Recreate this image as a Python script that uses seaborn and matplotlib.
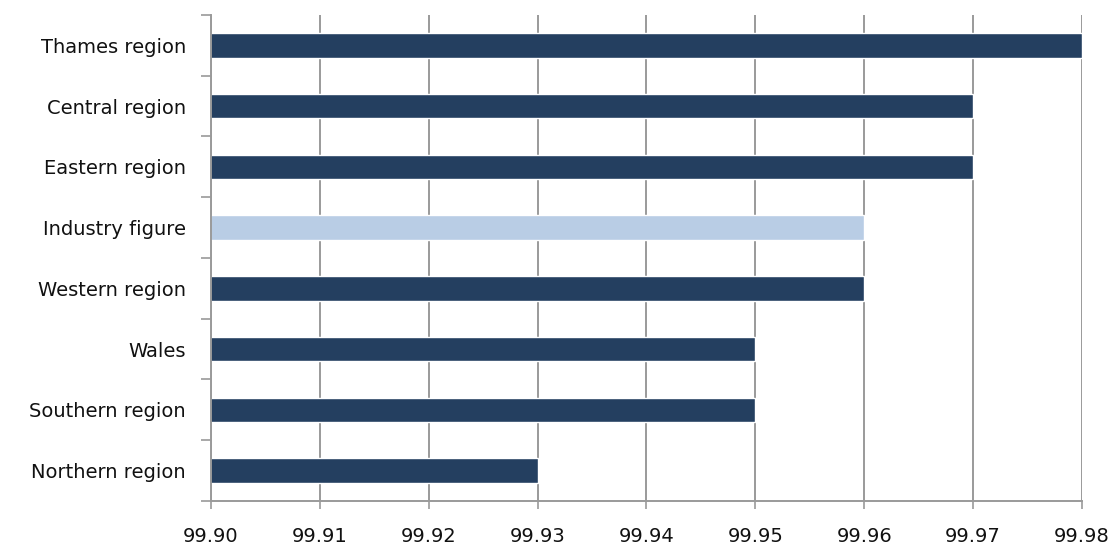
import matplotlib
matplotlib.use("Agg")
import matplotlib.pyplot as plt
import seaborn as sns
import numpy as np
import pandas as pd

regions = ["Thames region", "Central region", "Eastern region", "Industry figure",
           "Western region", "Wales", "Southern region", "Northern region"]
values = [99.98, 99.97, 99.97, 99.96, 99.96, 99.95, 99.95, 99.93]
kind = ["region", "region", "region", "industry", "region", "region", "region", "region"]
x_ticks = [99.90, 99.91, 99.92, 99.93, 99.94, 99.95, 99.96, 99.97, 99.98]

sns.set_theme(style="white")
plt.rcParams["font.family"] = ["DejaVu Sans"]

df = pd.DataFrame({"region": regions, "value": values, "kind": kind})
palette = {"region": "#243F60", "industry": "#B9CDE5"}

fig = plt.figure(figsize=(11.18, 5.47), dpi=100)
ax = fig.add_axes([0.1887, 0.0841, 0.9678 - 0.1887, 0.9726 - 0.0841])

sns.barplot(data=df, x="value", y="region", hue="kind", palette=palette,
            orient="h", width=0.4, dodge=False, legend=False, saturation=1,
            ax=ax, zorder=3)

ax.set_xlim(x_ticks[0], x_ticks[-1])
ax.set_ylim(len(regions) - 0.5, -0.5)
ax.set_xticks(x_ticks)
ax.set_xticklabels([f"{t:.2f}" for t in x_ticks], fontsize=14, color="#111111")
ax.set_xlabel("")
ax.set_ylabel("")

grid_col = "#9a9a9a"
ax.xaxis.grid(True, color=grid_col, linewidth=1.4, zorder=0)
ax.yaxis.grid(False)

ax.set_yticks(range(len(regions)))
ax.set_yticklabels(regions, fontsize=14, color="#111111")
ax.set_yticks(np.arange(-0.5, len(regions), 1.0), minor=True)
ax.tick_params(axis="y", which="major", length=0, pad=18)
ax.tick_params(axis="y", which="minor", length=7, width=1.2, color=grid_col, left=True)
ax.tick_params(axis="x", which="major", length=6, width=1.2, color=grid_col, bottom=True, pad=13)

for side in ["top", "right"]:
    ax.spines[side].set_visible(False)
for side in ["left", "bottom"]:
    ax.spines[side].set_color(grid_col)
    ax.spines[side].set_linewidth(1.4)
    ax.spines[side].set_zorder(4)

fig.savefig("out.png", dpi=100)
